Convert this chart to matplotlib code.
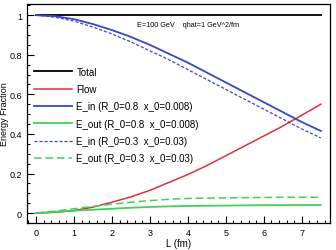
import numpy as np
import matplotlib
matplotlib.use('Agg')
import matplotlib.pyplot as plt
from matplotlib.ticker import MultipleLocator

L = [0, 0.5, 1, 1.5, 2, 2.5, 3, 3.5, 4, 4.5, 5, 5.5, 6, 6.5, 7, 7.5]
total = [1.0] * len(L)
flow = [0, 0.004, 0.013, 0.03, 0.055, 0.082, 0.115, 0.155, 0.195, 0.24, 0.29, 0.34, 0.39, 0.44, 0.495, 0.55]
ein_08 = [1.0, 0.995, 0.98, 0.955, 0.925, 0.89, 0.85, 0.805, 0.76, 0.71, 0.66, 0.61, 0.56, 0.51, 0.46, 0.415]
eout_08 = [0, 0.006, 0.012, 0.017, 0.022, 0.027, 0.031, 0.034, 0.036, 0.037, 0.038, 0.039, 0.04, 0.04, 0.041, 0.041]
ein_03 = [1.0, 0.99, 0.97, 0.94, 0.905, 0.865, 0.82, 0.775, 0.725, 0.675, 0.625, 0.575, 0.525, 0.475, 0.425, 0.38]
eout_03 = [0, 0.01, 0.022, 0.034, 0.045, 0.055, 0.063, 0.07, 0.074, 0.076, 0.077, 0.078, 0.079, 0.08, 0.08, 0.08]

plt.rcParams['font.family'] = ['Liberation Sans', 'DejaVu Sans']

fig = plt.figure(figsize=(3.36, 2.51), dpi=100)
ax = fig.add_axes([0.080, 0.1076, 0.902, 0.872])

blue = '#3548c8'
green = '#3ed25a'
red = '#e0303c'

ax.plot(L, total, color='black', lw=1.3, label='Total')
ax.plot(L, flow, color=red, lw=1.1, label='Flow')
ax.plot(L, ein_08, color=blue, lw=1.3, label='E_in (R_0=0.8  x_0=0.008)')
ax.plot(L, eout_08, color=green, lw=1.3, label='E_out (R_0=0.8  x_0=0.008)')
ax.plot(L, ein_03, color=blue, lw=0.9, ls=(0, (2.5, 1.5)), label='E_in (R_0=0.3  x_0=0.03)')
ax.plot(L, eout_03, color=green, lw=1.1, ls=(0, (5, 2.5)), label='E_out (R_0=0.3  x_0=0.03)')

ax.set_xlim(-0.24, 7.74)
ax.set_ylim(-0.05, 1.056)
ax.xaxis.set_major_locator(MultipleLocator(1))
ax.xaxis.set_minor_locator(MultipleLocator(0.2))
ax.yaxis.set_minor_locator(MultipleLocator(0.05))
ax.set_yticks([0, 0.2, 0.4, 0.6, 0.8, 1.0])
ax.set_yticklabels(['0', '0.2', '0.4', '0.6', '0.8', '1'])
ax.tick_params(which='both', direction='in', labelsize=6.5, width=0.8)
ax.tick_params(which='major', length=5)
ax.tick_params(which='minor', length=2.5)
for s in ax.spines.values():
    s.set_linewidth(0.9)

ax.set_xlabel('L (fm)', fontsize=7, labelpad=1)
ax.set_ylabel('Energy Fraction', fontsize=6.5, labelpad=0)

ax.text(2.66, 0.955, 'E=100 GeV    qhat=1 GeV^2/fm', fontsize=5.2, va='center')

ax.legend(loc='upper left', bbox_to_anchor=(0.0, 0.745), frameon=False, fontsize=7,
          handlelength=3.9, handletextpad=0.5, labelspacing=0.75, borderaxespad=0.3)

fig.savefig('out.png', dpi=100)
